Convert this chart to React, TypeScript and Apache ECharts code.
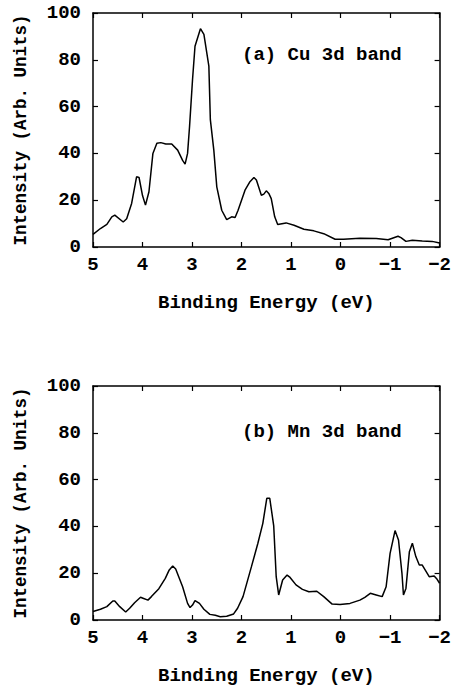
import React, { useEffect, useRef } from "react";
import * as echarts from "echarts";

// Cu 3d band (panel a)
const energyCu = [5.0, 4.85, 4.72, 4.62, 4.56, 4.39, 4.32, 4.22, 4.12, 4.07, 4.0, 3.94, 3.87, 3.79, 3.71, 3.63, 3.53, 3.41, 3.29, 3.19, 3.14, 3.09, 3.05, 2.99, 2.94, 2.83, 2.76, 2.66, 2.63, 2.56, 2.5, 2.4, 2.3, 2.2, 2.13, 2.07, 1.93, 1.83, 1.75, 1.7, 1.6, 1.55, 1.5, 1.45, 1.4, 1.33, 1.27, 1.1, 0.94, 0.74, 0.54, 0.34, 0.11, -0.06, -0.39, -0.72, -0.96, -1.16, -1.22, -1.32, -1.45, -1.65, -1.85, -2.0];
const intensityCu = [5.4, 7.9, 9.7, 12.9, 13.6, 10.7, 12.1, 18.6, 30, 29.7, 22, 17.9, 23.6, 40, 44.3, 44.6, 44, 44, 41.4, 37, 35.4, 40, 51.5, 71.5, 85.8, 93.3, 90.9, 77.3, 54.4, 41.4, 25.7, 15.7, 11.7, 12.9, 12.6, 15.7, 24.3, 27.9, 29.7, 28.6, 22.1, 22.6, 24, 22.9, 20.7, 12.9, 9.6, 10.3, 9.3, 7.6, 6.9, 5.7, 3.3, 3.3, 3.7, 3.6, 3.1, 4.6, 4.0, 2.4, 2.9, 2.6, 2.4, 1.7];

// Mn 3d band (panel b)
const energyMn = [5.0, 4.85, 4.72, 4.6, 4.56, 4.46, 4.34, 4.26, 4.16, 4.04, 3.99, 3.89, 3.82, 3.67, 3.54, 3.46, 3.39, 3.33, 3.19, 3.09, 3.04, 2.99, 2.94, 2.85, 2.76, 2.64, 2.53, 2.43, 2.3, 2.16, 2.08, 1.97, 1.8, 1.67, 1.57, 1.49, 1.43, 1.35, 1.3, 1.25, 1.17, 1.08, 1.02, 0.9, 0.77, 0.64, 0.48, 0.34, 0.17, 0.01, -0.19, -0.39, -0.49, -0.6, -0.72, -0.84, -0.92, -1.0, -1.1, -1.17, -1.24, -1.27, -1.32, -1.39, -1.45, -1.52, -1.59, -1.65, -1.79, -1.89, -1.95, -2.0];
const intensityMn = [3.6, 4.6, 5.7, 8.1, 8.1, 5.7, 3.4, 5.0, 7.4, 9.7, 9.3, 8.5, 10, 13.4, 17.8, 21.4, 23.1, 21.8, 14.2, 7.1, 5.3, 6.4, 8.3, 7.1, 4.6, 2.4, 2.0, 1.4, 1.6, 2.6, 5.0, 10, 22.8, 32.8, 41.3, 52, 52, 40.2, 18.5, 10.7, 17.1, 19.2, 18.2, 15, 13.1, 12.1, 12.3, 10, 6.8, 6.6, 7.1, 8.5, 9.7, 11.4, 10.7, 10, 14.2, 28.5, 38.2, 34.2, 19.9, 10.7, 13.5, 29.2, 32.8, 27.1, 23.5, 23.5, 18.5, 18.8, 17.4, 15.7];

const panelTitles = ["(a) Cu 3d band", "(b) Mn 3d band"];
const xAxisTitle = "Binding Energy (eV)";
const yAxisTitle = "Intensity (Arb. Units)";
const xMin = -2;
const xMax = 5;
const yMin = 0;
const yMax = 100;

const FONT = "Liberation Mono";

function pairs(xs: number[], ys: number[]) {
  return xs.map((x, i) => [x, ys[i]]);
}

export default function App() {
  const ref = useRef<HTMLDivElement>(null);
  useEffect(() => {
    if (!ref.current) return;
    const chart = echarts.init(ref.current, null, { renderer: "svg" });
    const lineAxis = { show: true, onZero: false, lineStyle: { color: "#000", width: 1.5 } };
    const tick = { show: true, inside: true, length: 5, lineStyle: { color: "#000", width: 1.2 } };
    const labelStyle = { color: "#000", fontFamily: FONT, fontWeight: "bold" as const, fontSize: 19 };
    const fmt = (v: number) => (v < 0 ? "\u2212" + Math.abs(v) : String(v));
    const grids = [
      { left: 93, top: 13, width: 351, height: 234 },
      { left: 93, top: 386, width: 351, height: 234 },
    ];
    const xAxes: any[] = [];
    const yAxes: any[] = [];
    grids.forEach((_, g) => {
      xAxes.push({
        type: "value", gridIndex: g, position: "bottom", min: xMin, max: xMax, interval: 1, inverse: true,
        axisLine: lineAxis, axisTick: tick, splitLine: { show: false },
        axisLabel: { ...labelStyle, margin: 8, formatter: fmt },
        name: xAxisTitle, nameLocation: "middle", nameGap: 46,
        nameTextStyle: { color: "#000", fontFamily: FONT, fontWeight: "bold", fontSize: 19 },
      });
      xAxes.push({
        type: "value", gridIndex: g, position: "top", min: xMin, max: xMax, interval: 1, inverse: true,
        axisLine: lineAxis, axisTick: tick, splitLine: { show: false }, axisLabel: { show: false },
      });
      yAxes.push({
        type: "value", gridIndex: g, position: "left", min: yMin, max: yMax, interval: 20,
        axisLine: lineAxis, axisTick: tick, splitLine: { show: false },
        axisLabel: { ...labelStyle, margin: 12 },
        name: yAxisTitle, nameLocation: "middle", nameGap: 63, nameRotate: 90,
        nameTextStyle: { color: "#000", fontFamily: FONT, fontWeight: "bold", fontSize: 17.5 },
      });
      yAxes.push({
        type: "value", gridIndex: g, position: "right", min: yMin, max: yMax, interval: 20,
        axisLine: lineAxis, axisTick: tick, splitLine: { show: false }, axisLabel: { show: false },
      });
    });
    chart.setOption({
      animation: false,
      backgroundColor: "#fff",
      grid: grids,
      xAxis: xAxes,
      yAxis: yAxes,
      graphic: [
        { type: "text", left: 242, top: 45, style: { text: panelTitles[0], fill: "#000", font: `bold 19px "${FONT}"` } },
        { type: "text", left: 242, top: 422, style: { text: panelTitles[1], fill: "#000", font: `bold 19px "${FONT}"` } },
      ],
      series: [
        {
          type: "line", xAxisIndex: 0, yAxisIndex: 0, data: pairs(energyCu, intensityCu),
          showSymbol: false, lineStyle: { color: "#000", width: 1.5 }, itemStyle: { color: "#000" },
        },
        {
          type: "line", xAxisIndex: 2, yAxisIndex: 2, data: pairs(energyMn, intensityMn),
          showSymbol: false, lineStyle: { color: "#000", width: 1.5 }, itemStyle: { color: "#000" },
        },
      ],
    });
    return () => chart.dispose();
  }, []);
  return <div ref={ref} style={{ position: "fixed", left: 0, top: 0, width: 454, height: 690 }} />;
}
